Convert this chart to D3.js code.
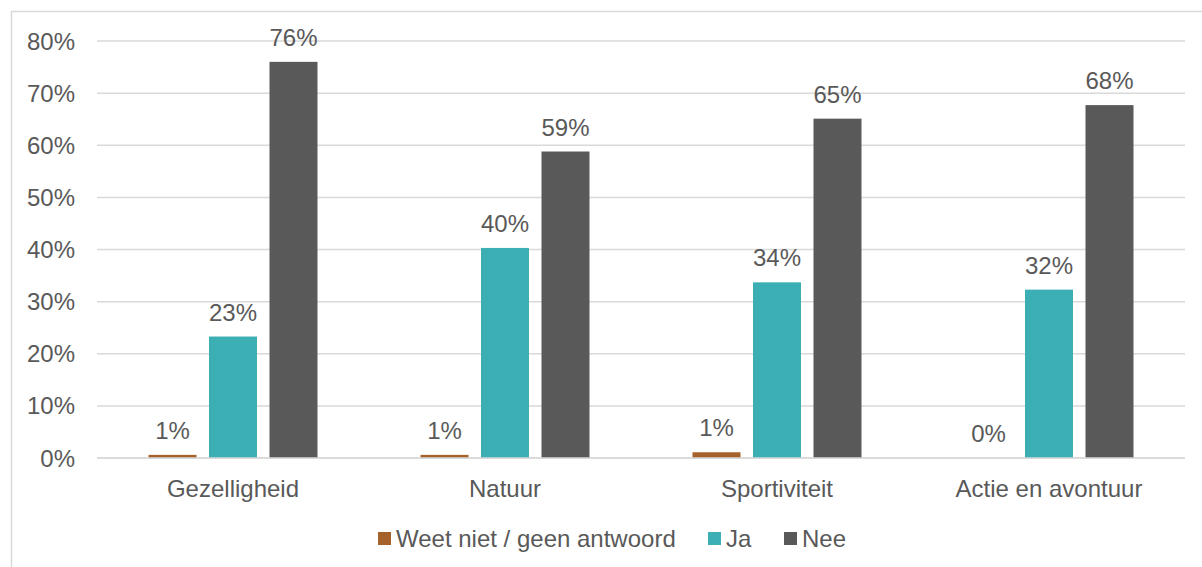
<!DOCTYPE html>
<html><head><meta charset="utf-8">
<script src="https://cdn.jsdelivr.net/npm/d3@7"></script>
<style>body{margin:0;background:#fff}svg{display:block}text{font-family:"Liberation Sans",Arial,sans-serif;fill:#595959}</style>
</head><body><svg id="c" width="1202" height="567"></svg>
<script>
const categories = ["Gezelligheid","Natuur","Sportiviteit","Actie en avontuur"];
const seriesNames = ["Weet niet / geen antwoord","Ja","Nee"];
const weetNiet = [0.6, 0.6, 1.1, 0.0];
const ja = [23.3, 40.3, 33.7, 32.3];
const nee = [76.0, 58.8, 65.1, 67.7];
const labelsWeetNiet = ["1%","1%","1%","0%"];
const labelsJa = ["23%","40%","34%","32%"];
const labelsNee = ["76%","59%","65%","68%"];
const yTicks = [0,10,20,30,40,50,60,70,80];
const colors = ["#A5622B","#3BAFB3","#595959"];

const series = [weetNiet, ja, nee];
const labels = [labelsWeetNiet, labelsJa, labelsNee];
const svg = d3.select("#c");
const fs = 24;

svg.append("rect").attr("x",11.5).attr("y",11.5).attr("width",1200).attr("height",570)
  .attr("fill","none").attr("stroke","#D9D9D9").attr("stroke-width",1.5);

const x0 = d3.scaleBand().domain(categories).range([97,1185]).paddingInner(0).paddingOuter(0);
const y = d3.scaleLinear().domain([0,80]).range([458,41]);
const bw = 48, step = 60.5;

svg.append("g").selectAll("line").data(yTicks).join("line")
  .attr("x1",97).attr("x2",1185).attr("y1",d=>y(d)).attr("y2",d=>y(d))
  .attr("stroke","#D9D9D9").attr("stroke-width",1.5);

svg.append("g").selectAll("text").data(yTicks).join("text")
  .attr("x",75).attr("y",d=>y(d)+8.5).attr("text-anchor","end").attr("font-size",fs)
  .text(d=>d+"%");

series.forEach((vals,si)=>{
  const g = svg.append("g");
  g.selectAll("rect").data(categories).join("rect")
    .attr("x",(c)=>x0(c)+x0.bandwidth()/2 + (si-1)*step - bw/2)
    .attr("width",bw)
    .attr("y",(c,i)=>y(vals[i]))
    .attr("height",(c,i)=>y(0)-y(vals[i]))
    .attr("fill",colors[si]);
  g.selectAll("text").data(categories).join("text")
    .attr("x",(c)=>x0(c)+x0.bandwidth()/2 + (si-1)*step)
    .attr("y",(c,i)=>y(vals[i])-16)
    .attr("text-anchor","middle").attr("font-size",fs)
    .text((c,i)=>labels[si][i]);
});

svg.append("line").attr("x1",97).attr("x2",1185).attr("y1",y(0)).attr("y2",y(0))
  .attr("stroke","#D9D9D9").attr("stroke-width",1.5);

svg.append("g").selectAll("text").data(categories).join("text")
  .attr("x",c=>x0(c)+x0.bandwidth()/2).attr("y",496.5)
  .attr("text-anchor","middle").attr("font-size",fs).text(c=>c);

const legX = [378, 708, 784];
const lg = svg.append("g");
seriesNames.forEach((n,i)=>{
  lg.append("rect").attr("x",legX[i]).attr("y",532).attr("width",13).attr("height",13).attr("fill",colors[i]);
  lg.append("text").attr("x",legX[i]+18).attr("y",546.5).attr("font-size",fs).text(n);
});
</script></body></html>
